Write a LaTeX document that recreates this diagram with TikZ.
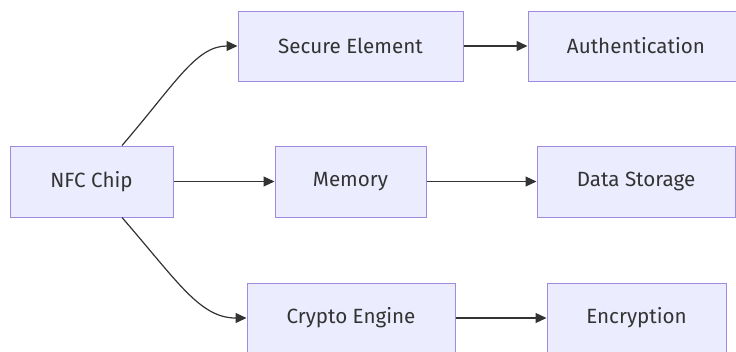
\documentclass[tikz,border=0pt]{standalone}
\usepackage{fontspec}
\setmainfont{Fira Sans}
\usetikzlibrary{arrows.meta}
\definecolor{boxfill}{HTML}{ECECFF}
\definecolor{boxline}{HTML}{9F8AE0}
\definecolor{txt}{HTML}{333333}
\begin{document}
\begin{tikzpicture}[x=1pt,y=-1pt,
  box/.style={draw=boxline,fill=boxfill,line width=1pt,rectangle,inner sep=0pt,
    text=txt,font=\fontsize{20.6}{24}\selectfont},
  conn/.style={draw=txt,line width=1.2pt,-{Triangle[length=11pt,width=10pt]}}]
\useasboundingbox[fill=white] (0,0) rectangle (736,351);
\node[box,minimum width=163pt,minimum height=71pt] (nfc) at (91.5,181.5) {NFC Chip};
\node[box,minimum width=225pt,minimum height=70pt] (se) at (350.5,46) {Secure Element};
\node[box,minimum width=216pt,minimum height=70pt] (auth) at (636,46) {Authentication};
\node[box,minimum width=151pt,minimum height=71pt] (mem) at (350.5,181.5) {Memory};
\node[box,minimum width=198pt,minimum height=71pt] (ds) at (636,181.5) {Data Storage};
\node[box,minimum width=208pt,minimum height=70pt] (ce) at (351,318) {Crypto Engine};
\node[box,minimum width=179pt,minimum height=70pt] (enc) at (636.5,318) {Encryption};
\coordinate (nt) at ([xshift=30.5pt]nfc.north);
\coordinate (nb) at ([xshift=30.5pt]nfc.south);
\draw[conn] (nt) .. controls (175,84) and (196,46) .. (se.west);
\draw[conn] (nb) .. controls (178,282) and (200,318) .. (ce.west);
\draw[conn] (nfc.east) -- (mem.west);
\draw[conn] (se.east) -- (auth.west);
\draw[conn] (mem.east) -- (ds.west);
\draw[conn] (ce.east) -- (enc.west);
\end{tikzpicture}
\end{document}
